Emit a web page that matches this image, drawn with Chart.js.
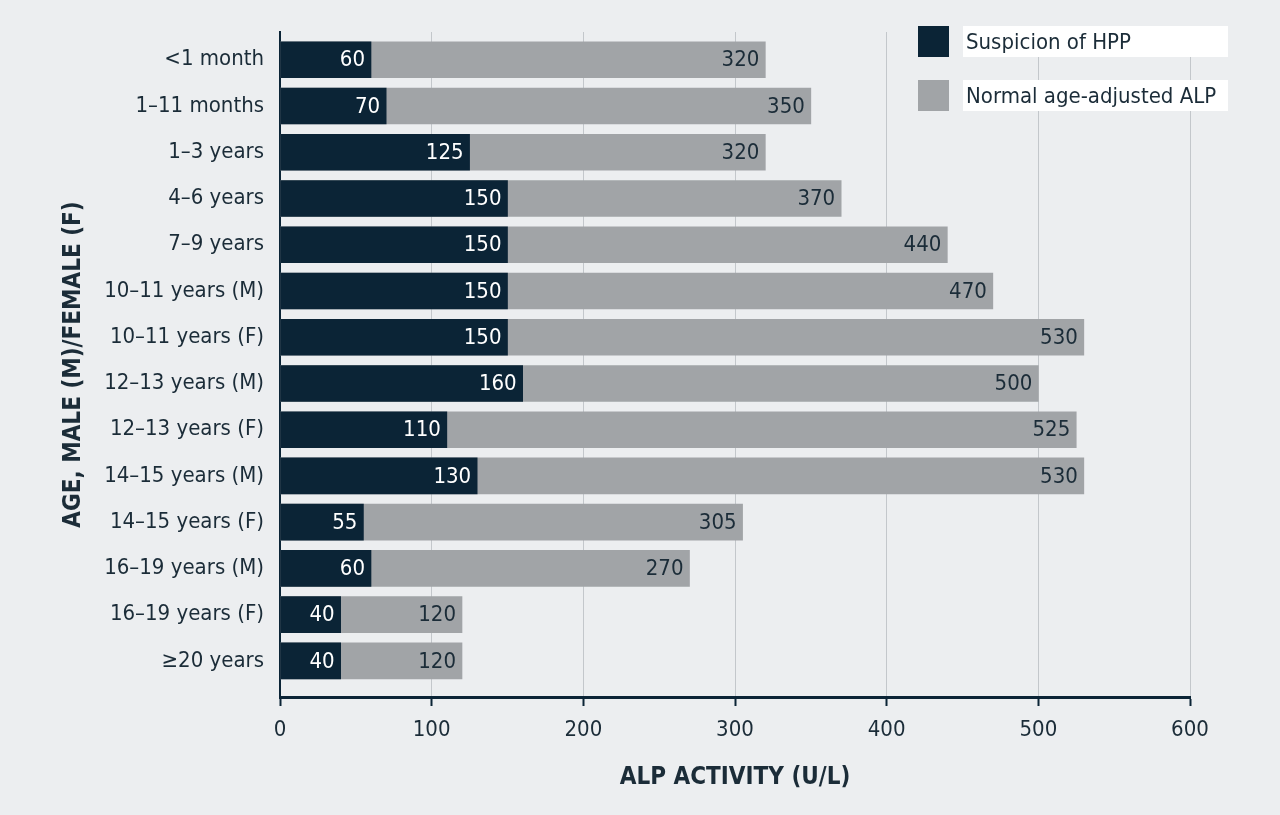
<!DOCTYPE html>
<html>
<head>
<meta charset="utf-8">
<script src="https://cdn.jsdelivr.net/npm/chart.js@4.4.0/dist/chart.umd.min.js"></script>
<style>
  html, body { margin: 0; padding: 0; background: #eceef0; }
  #wrap { position: relative; width: 1280px; height: 815px; }
  #legend { position: absolute; left: 918px; top: 26px; }
  .item { display: flex; align-items: center; height: 31px; margin-bottom: 23px; }
  .swatch { width: 31px; height: 31px; margin-right: 14px; }
  .label {
    background: #fff; height: 31px; width: 262px; padding-left: 3px;
    font: 22px "Liberation Sans Narrow", "DejaVu Sans Condensed", Roboto, sans-serif;
    color: #1b2c38; line-height: 31px;
  }
</style>
</head>
<body>
<div id="wrap">
  <canvas id="chart-alp" width="1280" height="815"></canvas>
  <div id="legend"></div>
</div>
<script>
  "use strict";
  const categories = [
    "<1 month", "1–11 months", "1–3 years", "4–6 years", "7–9 years",
    "10–11 years (M)", "10–11 years (F)", "12–13 years (M)", "12–13 years (F)",
    "14–15 years (M)", "14–15 years (F)", "16–19 years (M)", "16–19 years (F)", "≥20 years",
  ];
  const hppValues = [60, 70, 125, 150, 150, 150, 150, 160, 110, 130, 55, 60, 40, 40];
  const normalValues = [320, 350, 320, 370, 440, 470, 530, 500, 525, 530, 305, 270, 120, 120];
  const seriesNames = ["Suspicion of HPP", "Normal age-adjusted ALP"];
  const xTicks = [0, 100, 200, 300, 400, 500, 600];

  const FONT = '"Liberation Sans Narrow", "DejaVu Sans Condensed", Roboto, sans-serif';
  const TEXT = "#1b2c38";
  const DARK = "#0b2436";
  const GRAY = "#a1a4a7";

  const toPoints = (vals) => vals.map((v, i) => ({ x: v, y: i }));

  // legend (html, white label boxes like the original)
  const legendEl = document.getElementById("legend");
  [DARK, GRAY].forEach((c, i) => {
    const row = document.createElement("div");
    row.className = "item";
    row.innerHTML =
      '<div class="swatch" style="background:' + c + '"></div><div class="label"></div>';
    row.querySelector(".label").textContent = seriesNames[i];
    legendEl.appendChild(row);
  });

  const valueLabels = {
    id: "valueLabels",
    afterDatasetsDraw: function (chart) {
      const ctx = chart.ctx;
      ctx.save();
      ctx.font = "22px " + FONT;
      ctx.textAlign = "right";
      ctx.textBaseline = "middle";
      [1, 0].forEach((di) => {
        const meta = chart.getDatasetMeta(di);
        ctx.fillStyle = di === 0 ? "#ffffff" : TEXT;
        meta.data.forEach((bar, i) => {
          ctx.fillText(chart.data.datasets[di].data[i].x, bar.x - 6, bar.y + 1);
        });
      });
      ctx.restore();
    },
  };

  const config = {
    type: "bar",
    data: {
      datasets: [
        { label: seriesNames[0], data: toPoints(hppValues), backgroundColor: DARK },
        { label: seriesNames[1], data: toPoints(normalValues), backgroundColor: GRAY },
      ],
    },
    options: {
      indexAxis: "y",
      responsive: false,
      animation: false,
      grouped: false,
      barThickness: 36,
      layout: { padding: { top: 32, right: 90, left: 0, bottom: 0 } },
      plugins: { legend: { display: false }, tooltip: { enabled: false } },
      scales: {
        x: {
          type: "linear",
          min: 0,
          max: 600,
          afterBuildTicks: (s) => { s.ticks = xTicks.map((v) => ({ value: v })); },
          afterFit: (s) => { s.height = 118; },
          grid: { color: "#c3c7cb", lineWidth: 1, tickColor: DARK, tickLength: 9, tickWidth: 2 },
          border: { color: DARK, width: 3 },
          ticks: { color: TEXT, font: { family: FONT, size: 22 }, padding: 11 },
          title: {
            display: true,
            text: "ALP ACTIVITY (U/L)",
            color: TEXT,
            font: { family: FONT, size: 24, weight: "bold" },
            padding: { top: 0, bottom: 23 },
          },
        },
        y: {
          type: "linear",
          reverse: true,
          offset: false,
          min: -0.6,
          max: 13.78,
          afterBuildTicks: (s) => { s.ticks = categories.map((c, i) => ({ value: i })); },
          afterFit: (s) => { s.width = 280; },
          grid: { display: false, drawTicks: false, offset: false },
          border: { display: true, color: DARK, width: 2 },
          ticks: {
            color: TEXT,
            font: { family: FONT, size: 22 },
            padding: 16,
            callback: (v) => categories[v],
          },
          title: {
            display: true,
            text: "AGE, MALE (M)/FEMALE (F)",
            color: TEXT,
            font: { family: FONT, size: 24, weight: "bold" },
            padding: { top: 59, bottom: 0 },
          },
        },
      },
    },
    plugins: [valueLabels],
  };

  new Chart(document.getElementById("chart-alp"), config);
</script>
</body>
</html>
